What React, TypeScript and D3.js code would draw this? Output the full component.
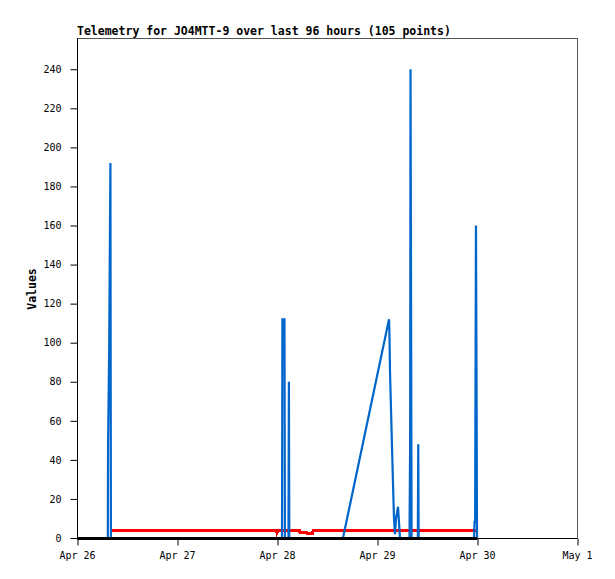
import React, { useEffect, useRef } from "react";
import * as d3 from "d3";

// Hours since Apr 26 00:00 for each sample, with values
const blueHours = [
  7.40, 7.46, 7.72, 8.02, 8.14, 20, 40, 49.2, 49.3, 49.8, 49.9, 50.75, 50.85, 50.95, 60, 63.84,
  74.88, 75.0, 75.12, 75.36, 75.6, 75.84, 76.08, 76.32, 76.56, 77.04, 77.28, 77.52,
  79.8, 79.95, 80.05, 80.3, 81.8, 81.9, 82.0, 95.3, 95.4, 95.55, 95.75, 95.9, 96.0,
];
const blueValues = [
  0, 48, 96, 192, 0, 0, 0, 0, 112, 112, 0, 0, 80, 0, 0, 0,
  112, 103, 85, 66, 47, 28, 10, 2, 10, 16, 8, 0,
  0, 48, 240, 0, 0, 48, 0, 0, 8, 8, 160, 77, 0,
];

const redHours = [8.4, 47.9, 48.0, 48.3, 53.4, 53.5, 55.2, 55.25, 56.6, 56.65, 96.0];
const redValues = [3.8, 3.8, 2.6, 3.8, 3.8, 3.0, 3.0, 2.4, 2.4, 3.8, 3.8];

const blackHours = [0, 96];
const blackValues = [0, 0];

const yTicks = [0, 20, 40, 60, 80, 100, 120, 140, 160, 180, 200, 220, 240];
const xTickDays = ["2024-04-26", "2024-04-27", "2024-04-28", "2024-04-29", "2024-04-30", "2024-05-01"];

const titleText = "Telemetry for JO4MTT-9 over last 96 hours (105 points)";
const yLabel = "Values";

const W = 615;
const H = 579;
const left = 77, right = 577, top = 38, bottom = 538;

const start = new Date(2024, 3, 26, 0, 0);
const toDate = (h: number) => new Date(start.getTime() + h * 3600 * 1000);

export default function App() {
  const ref = useRef<SVGSVGElement>(null);
  useEffect(() => {
    const svg = d3.select(ref.current);
    svg.selectAll("*").remove();
    const x = d3.scaleTime().domain([new Date(2024, 3, 26), new Date(2024, 4, 1)]).range([left, right]);
    const y = d3.scaleLinear().domain([0, 256]).range([bottom, top]);

    svg.append("rect").attr("width", W).attr("height", H).attr("fill", "#fff");

    // border
    svg.append("path").attr("d", `M${left},${top + 0.5}H${right + 0.5}V${bottom}`).attr("stroke", "#555").attr("fill", "none").attr("shape-rendering", "crispEdges");

    const mono = "'DejaVu Sans Mono', monospace";
    const yAxis = d3.axisLeft(y).tickValues(yTicks).tickSize(7).tickPadding(9);
    const gy = svg.append("g").attr("transform", `translate(${left + 0.5},0)`).call(yAxis);
    gy.selectAll("text").attr("font-family", mono).attr("font-size", 10).attr("fill", "#000");
    gy.select(".domain").attr("d", `M0,${top}V${bottom + 0.5}`);

    const xDates = xTickDays.map((s) => {
      const [yy, mm, dd] = s.split("-").map(Number);
      return new Date(yy, mm - 1, dd);
    });
    const xAxis = d3.axisBottom(x).tickValues(xDates).tickSize(7).tickPadding(6).tickFormat((d: any) => d3.timeFormat("%b %-d")(d));
    const gx = svg.append("g").attr("transform", `translate(0,${bottom + 0.5})`).call(xAxis);
    gx.selectAll("text").attr("font-family", mono).attr("font-size", 10).attr("fill", "#000");
    gx.select(".domain").attr("d", `M${left},0H${right + 0.5}`);
    gx.selectAll("line").attr("transform", "translate(0.5,0)");

    const line = d3.line<[number, number]>().x((d) => x(toDate(d[0]))).y((d) => y(d[1]));
    const mk = (hs: number[], vs: number[]) => hs.map((h, i) => [h, vs[i]] as [number, number]);

    svg.append("path").attr("d", line(mk(redHours, redValues))).attr("stroke", "#ff0000").attr("stroke-width", 3).attr("fill", "none").attr("shape-rendering", "crispEdges");
    svg.append("path").attr("d", line(mk(blueHours, blueValues))).attr("stroke", "#0066cc").attr("stroke-width", 2.2).attr("fill", "none");
    svg.append("path").attr("d", line(mk(blackHours, blackValues))).attr("stroke", "#000").attr("stroke-width", 3).attr("fill", "none").attr("shape-rendering", "crispEdges");

    svg.append("text").attr("x", left).attr("y", 35).attr("font-family", mono).attr("font-weight", "bold").attr("font-size", 11.5).text(titleText);
    svg.append("text").attr("transform", `translate(36,289) rotate(-90)`).attr("text-anchor", "middle").attr("font-family", mono).attr("font-weight", "bold").attr("font-size", 11.5).text(yLabel);
  }, []);
  return <svg ref={ref} width={W} height={H} style={{ display: "block", position: "absolute", left: 0, top: 0 }} />;
}
